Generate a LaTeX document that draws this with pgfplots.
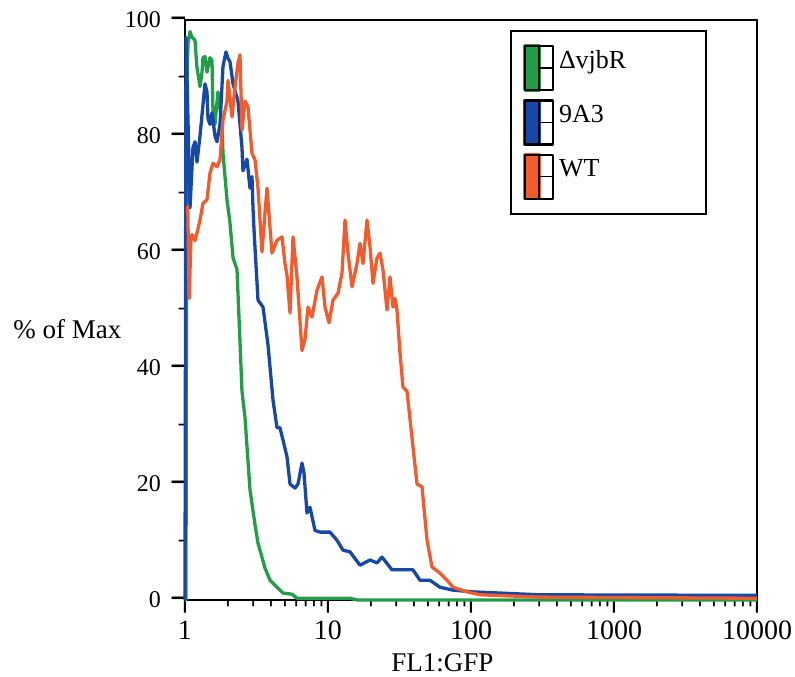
\documentclass[border=0pt]{standalone}
\usepackage{fontspec}
\setmainfont{Liberation Serif}
\newfontfamily\dejavu{DejaVu Sans}
\usepackage{pgfplots}
\pgfplotsset{compat=1.18}

\definecolor{cgreen}{RGB}{35,158,72}
\definecolor{cblue}{RGB}{22,72,168}
\definecolor{corange}{RGB}{242,92,44}

% tick marks set as glyphs inside the tick labels
\newcommand{\xlab}[1]{\scalebox{1.3}[1]{\fontsize{10.7bp}{12bp}\dejavu ┃}\\[-3bp]#1}
\newcommand{\ylab}[1]{#1\hspace{11bp}\raisebox{4bp}{\scalebox{1}[0.7]{\fontsize{21.6bp}{24bp}\dejavu ━}}}
\newcommand{\mxt}{\scalebox{2.2}[1]{\fontsize{5.2bp}{6bp}\dejavu ┃}}
\newcommand{\myt}{{\fontsize{10bp}{12bp}\dejavu ━}}

\newcommand{\fcsicon}[1]{%
  \fill[#1] (0bp,-29.5bp) rectangle (14bp,14.5bp);
  \draw[black,line width=2.2bp] (0bp,-29.5bp) rectangle (28bp,14.5bp);
  \draw[black,line width=2bp] (14bp,-29.5bp) -- (14bp,14.5bp);
  \draw[black,line width=1.5bp] (14bp,-7.5bp) -- (28bp,-7.5bp);}

\begin{document}
\begin{tikzpicture}
\begin{axis}[
    scale only axis,
    width=572bp, height=580bp,
    xmode=log,
    xmin=1, xmax=10000,
    ymin=0, ymax=100,
    xtick={1,10,100,1000,10000},
    xticklabels={\xlab{1},\xlab{10},\xlab{100},\xlab{1000},\xlab{10000}},
    ytick={0,20,40,60,80,100},
    yticklabels={\ylab{0},\ylab{20},\ylab{40},\ylab{60},\ylab{80},\ylab{100}},
    extra x ticks={2,3,4,5,6,7,8,9,20,30,40,50,60,70,80,90,200,300,400,500,600,700,800,900,2000,3000,4000,5000,6000,7000,8000,9000},
    extra x tick labels={\mxt,\mxt,\mxt,\mxt,\mxt,\mxt,\mxt,\mxt,\mxt,\mxt,\mxt,\mxt,\mxt,\mxt,\mxt,\mxt,\mxt,\mxt,\mxt,\mxt,\mxt,\mxt,\mxt,\mxt,\mxt,\mxt,\mxt,\mxt,\mxt,\mxt,\mxt,\mxt},
    extra y ticks={10,30,50,70,90},
    extra y tick labels={\myt,\myt,\myt,\myt,\myt},
    tick pos=left,
    tick align=outside,
    major tick length=0pt,
    minor tick length=0pt,
    tick style={draw=none},
    axis line style={black, line width=2.6bp},
    xticklabel style={font=\fontsize{28bp}{32bp}\selectfont, align=center, inner ysep=0pt},
    yticklabel style={font=\fontsize{24bp}{28bp}\selectfont, inner xsep=0pt},
    xlabel={FL1:GFP},
    xlabel style={font=\fontsize{27bp}{30bp}\selectfont, at={(axis description cs:0.45,-0.124)}, anchor=base},
    ylabel={\% of Max},
    ylabel style={font=\fontsize{27bp}{30bp}\selectfont, rotate=-90, at={(axis description cs:-0.105,0.467)}, anchor=east},
    clip=false,
    legend style={at={(axis description cs:0.9126,0.9828)}, anchor=north east,
        draw=black, line width=2bp, inner xsep=12bp, inner ysep=13.5bp,
        row sep=7bp, font=\fontsize{26bp}{30bp}\selectfont,
        /tikz/every odd column/.append style={column sep=3bp}},
    legend cell align=left,
    every axis plot/.append style={line width=3.3bp, line join=round},
]
\addplot[cgreen, legend image code/.code={\fcsicon{cgreen}}] coordinates {
(1.0,0) (1.016,0) (1.025,60) (1.033,90) (1.05,96) (1.084,98) (1.12,97) (1.175,96.5)
(1.21,92) (1.273,88.5) (1.315,91) (1.336,93.5) (1.38,93.7) (1.425,91) (1.495,93.5)
(1.545,93) (1.57,84) (1.62,82) (1.70,87.6) (1.757,85) (1.815,82) (1.844,77)
(1.967,69) (2.064,65) (2.167,59) (2.31,57) (2.42,45) (2.503,36) (2.627,31.5)
(2.848,19) (3.087,13) (3.24,9.8) (3.626,5.5) (3.93,3.4) (4.617,1.7) (4.845,1.2)
(5.601,1.0) (6.07,0.3) (14.25,0.3) (16,0) (10000,0)
};
\addlegendentry{\makebox[133bp][l]{ΔvjbR}}
\addplot[cblue, legend image code/.code={\fcsicon{cblue}}] coordinates {
(1.0,0) (1.016,97) (1.033,90) (1.084,67.6) (1.137,78) (1.175,79) (1.213,75.5)
(1.273,80) (1.315,83.6) (1.38,89) (1.425,87.6) (1.448,83) (1.495,82) (1.545,84)
(1.621,80) (1.674,79) (1.757,82) (1.844,92) (1.935,94.5) (1.999,93.4) (2.064,92.8)
(2.167,89) (2.348,86) (2.503,78) (2.544,74) (2.713,76) (2.848,71) (2.941,73)
(2.989,67.6) (3.05,63) (3.24,51.7) (3.512,50.5) (3.806,44) (4.125,34.5) (4.40,29.7)
(4.617,29.7) (5.167,24.7) (5.424,20) (5.878,19.3) (6.169,20) (6.579,23.6) (6.794,21.9)
(7.131,15) (7.483,16) (8.111,12) (8.792,11.7) (10.33,11.7) (11.56,10.3) (12.73,8.6)
(14.25,8.3) (16.74,6) (19.67,6.9) (22.01,6.4) (23.86,7.4) (28.03,5.2) (39.3,5.2)
(44,3.4) (51.68,3.4) (60.7,2.2) (74.83,1.7) (103.3,1.4) (159.5,1.2) (300,0.9) (10000,0.8)
};
\addlegendentry{9A3}
\addplot[corange, legend image code/.code={\fcsicon{corange}}] coordinates {
(1.045,68) (1.07,52) (1.10,62) (1.119,63) (1.175,62) (1.233,64) (1.273,65.5)
(1.336,68.4) (1.425,69) (1.495,73.6) (1.57,75.3) (1.674,74.7) (1.757,75.9) (1.844,82.8)
(1.967,86) (1.999,89.6) (2.132,83.3) (2.237,88.4) (2.348,92.6) (2.424,94) (2.503,81)
(2.627,86) (2.758,85) (2.941,77) (3.087,75.9) (3.24,71) (3.455,60) (3.626,66.7)
(3.745,71) (4.058,59.8) (4.4,62) (4.768,62.6) (5.003,58) (5.167,56) (5.424,49.5)
(5.692,62.6) (6.07,55.7) (6.579,43) (6.905,45) (7.246,50.5) (7.728,48.8) (8.377,53.4)
(9.08,55.7) (9.528,50.5) (10.16,47.8) (10.84,51.7) (11.75,52.9) (12.53,56.4) (13.15,65.5)
(13.8,59.8) (14.72,54) (15.95,58) (16.74,61.5) (17.57,58) (18.74,65.5) (19.67,60.9)
(20.64,54.6) (22.01,59) (23.1,59.8) (24.24,56.9) (25.86,50) (27.14,55.7) (28.48,50.5)
(29.41,52) (30.37,50) (31.87,42.6) (33.45,36.7) (35.68,36) (39.3,26.4) (41.93,20)
(45.44,19.5) (49.25,10.3) (53.37,5.7) (60.7,4.6) (67.94,3.4) (74.83,2.2) (93.76,1.4)
(115.6,0.9) (300,0.5) (10000,0.3)
};
\addlegendentry{WT}
\end{axis}
\pgfresetboundingbox
\path (-185bp,-77bp) rectangle (610bp,600bp);
\end{tikzpicture}
\end{document}
